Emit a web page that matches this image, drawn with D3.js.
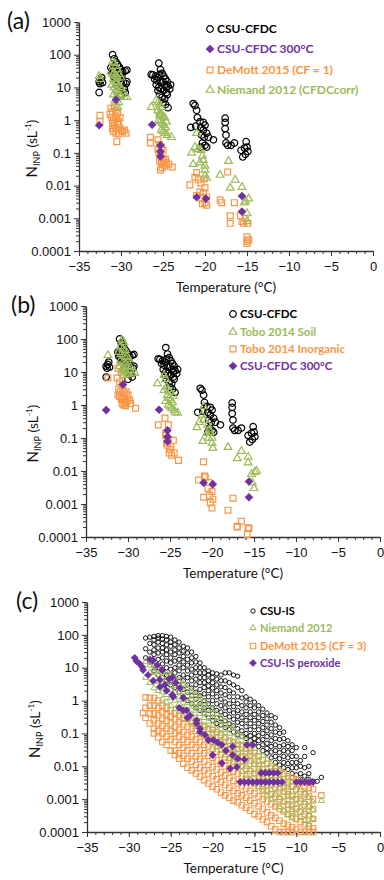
<!DOCTYPE html>
<html>
<head>
<meta charset="utf-8">
<script src="https://cdn.jsdelivr.net/npm/d3@7"></script>
<style>
  body { margin: 0; background: #fff; }
  svg { display: block; font-family: Lato, "Open Sans", sans-serif; }
</style>
</head>
<body>
<div id="chart"></div>
<script>
// ---- data (temperature in degC, N_INP in per standard litre) ----

// CSU-CFDC, same measurements in (a) and (b)
var cfdc = [
  [-32.6,15],[-32.5,13],[-32.4,17],[-32.3,20],[-32.6,7],[-32.2,14],
  [-31.0,100],[-30.8,75],[-30.6,60],[-31.2,40],[-31.0,35],[-30.8,45],[-30.6,38],[-30.4,50],[-30.2,42],
  [-30.0,35],[-29.8,30],[-29.5,32],[-29.3,34],[-31.1,30],[-30.9,28],[-30.7,25],[-30.5,30],[-30.3,28],
  [-30.1,25],[-29.9,22],[-30.8,20],[-30.6,18],[-30.4,22],[-30.2,18],[-30.0,15],[-29.7,14],[-29.3,15],
  [-30.5,12],[-30.2,10],[-29.6,9],[-29.4,13],[-30.0,6],[-29.5,7],
  [-25.5,55],[-25.3,35],[-26.4,25],[-26.2,24],[-25.9,22],[-25.6,20],[-25.4,25],[-25.1,27],[-24.9,22],
  [-24.7,18],[-24.5,15],[-26.0,18],[-25.7,16],[-25.3,14],[-25.0,15],[-24.8,12],[-24.6,10],[-24.4,11],
  [-25.8,12],[-25.5,10],[-25.2,9],[-24.9,8],[-24.6,7],[-25.4,6],[-25.1,5],[-24.8,4.5],[-24.5,6],
  [-25.0,3.5],[-24.7,3],[-24.4,2.4],[-25.6,8],[-24.2,9],[-24.1,12],
  [-21.4,3.2],[-21.2,2.8],[-21.0,2.0],[-20.9,1.2],[-20.6,0.9],[-20.2,0.85],[-21.7,0.6],[-21.1,0.65],
  [-20.5,0.6],[-20.2,0.5],[-20.0,0.7],[-19.8,0.4],[-20.4,0.35],[-19.6,0.3],[-19.0,0.25],[-20.1,0.3],
  [-20.3,0.2],[-20.0,0.17],[-19.8,0.15],[-20.5,0.15],
  [-17.6,1.15],[-17.6,0.85],[-17.6,0.55],[-17.5,0.35],[-17.5,0.2],[-17.3,0.17],[-16.9,0.17],[-16.5,0.2],
  [-15.1,0.22],[-15.0,0.15],[-15.7,0.12],[-15.2,0.09],[-15.5,0.075],[-14.9,0.11],[-15.3,0.14]
];

// CSU-CFDC 300 degC
var cfdc300 = [
  [-32.6,0.7],[-30.6,4.2],[-26.3,0.72],[-25.3,0.17],[-25.3,0.11],[-25.3,0.078],
  [-21.0,0.0044],[-19.9,0.004],[-15.6,0.0048],[-15.6,0.0016]
];

// DeMott 2015 (CF = 1)
var demott1 = [
  [-32.5,1.4],[-32.5,0.9],
  [-31.2,2.3],[-31.0,1.8],[-30.8,2.5],[-30.6,2.0],[-30.4,1.6],[-31.3,1.5],[-31.1,1.2],[-30.9,1.0],
  [-30.7,1.3],[-30.5,1.1],[-30.3,0.9],[-30.1,1.2],[-31.0,0.8],[-30.8,0.7],[-30.6,0.6],[-30.4,0.75],
  [-30.2,0.6],[-30.0,0.5],[-29.8,0.45],[-29.6,0.5],[-29.4,0.4],[-30.9,0.45],[-30.6,0.4],[-30.5,0.22],
  [-31.0,0.55],[-30.3,0.38],
  [-26.5,0.3],[-26.5,0.2],[-25.6,0.25],[-25.4,0.18],[-25.2,0.15],[-25.0,0.12],[-25.5,0.1],[-25.3,0.08],
  [-25.1,0.07],[-24.9,0.06],[-25.4,0.055],[-25.2,0.05],[-25.0,0.045],[-24.8,0.04],[-25.1,0.035],
  [-24.6,0.05],[-24.3,0.045],[-23.9,0.037],[-25.3,0.03],[-24.7,0.065],[-25.6,0.13],
  [-21.8,0.0105],[-21.0,0.025],[-21.0,0.005],[-20.8,0.015],[-20.5,0.012],[-20.0,0.0085],[-20.0,0.003],
  [-19.8,0.0025],[-20.4,0.004],[-20.6,0.0065],[-20.2,0.006],[-19.8,0.0045],[-20.3,0.0028],[-21.2,0.018],
  [-20.1,0.016],
  [-18.2,0.0036],[-18.0,0.003],[-17.3,0.026],[-16.5,0.003],[-17.0,0.0012],[-17.0,0.0007],
  [-15.8,0.0012],[-15.6,0.0008],[-15.4,0.0007],[-14.9,0.0007],[-15.2,0.001],[-15.0,0.00027],
  [-15.0,0.0002],[-15.0,0.00017],[-14.8,0.00022]
];

// Niemand 2012 (CFDCcorr)
var niemandCorr = [
  [-32.6,22],[-32.5,18],
  [-31.0,60],[-30.8,55],[-30.6,45],[-30.4,35],[-31.2,30],[-31.0,25],[-30.8,28],[-30.6,22],[-30.4,20],
  [-30.2,25],[-30.0,20],[-30.9,18],[-30.7,15],[-30.5,14],[-30.3,12],[-30.1,10],[-29.9,9],[-31.1,12],
  [-30.8,10],[-30.6,8],[-30.4,7],[-30.2,6],[-30.0,5.5],[-29.6,5],[-29.3,5],[-30.5,5],[-30.7,4],
  [-30.9,6],[-30.3,3.5],[-30.4,2.5],
  [-26.4,2.5],[-25.8,4],[-25.6,3.5],[-25.4,3],[-25.2,2.5],[-25.6,2],[-25.4,1.7],[-25.2,1.5],[-25.0,1.3],
  [-24.8,1.2],[-25.5,1.0],[-25.3,0.9],[-25.1,0.8],[-24.9,0.7],[-24.7,0.6],[-25.2,0.5],[-25.0,0.45],
  [-24.8,0.4],[-24.5,0.35],[-24.0,0.3],[-25.4,1.4],[-24.6,0.9],
  [-21.0,0.4],[-21.6,0.1],[-21.2,0.15],[-20.8,0.13],[-20.5,0.12],[-20.3,0.08],[-20.2,0.06],[-20.0,0.04],
  [-20.0,0.03],[-20.0,0.02],[-19.8,0.017],[-21.4,0.045],[-20.6,0.05],
  [-18.2,0.021],[-17.2,0.056],[-17.0,0.0085],[-16.4,0.015],
  [-15.6,0.009],[-15.2,0.0034],[-14.8,0.004],[-15.0,0.0014],[-15.0,0.0008],[-15.3,0.003]
];

// Tobo 2014 Soil
var toboSoil = [
  [-32.4,32],
  [-30.7,93],[-30.5,80],[-30.9,60],[-30.6,50],[-30.3,45],[-31.1,40],[-30.8,35],[-30.4,30],[-30.1,28],
  [-29.9,25],[-30.9,22],[-30.6,20],[-30.3,18],[-30.0,15],[-29.7,14],[-31.0,15],[-30.7,12],[-30.4,11],
  [-30.2,10],[-29.5,9],[-29.2,9.4],[-30.5,8],[-30.0,8.5],
  [-26.5,4.5],[-25.7,8],[-25.5,6],[-25.7,2.8],[-25.4,3.5],[-25.2,3],[-25.0,2.5],[-25.3,2],[-25.1,1.6],
  [-24.9,1.4],[-24.7,1.2],[-25.2,1.0],[-25.0,0.9],[-24.8,0.8],[-24.5,0.7],[-24.1,0.58],[-24.4,0.6],
  [-25.5,1.3],[-24.6,1.9],
  [-21.8,0.21],[-21.5,0.3],[-21.0,0.9],[-21.0,0.35],[-20.5,0.25],[-20.3,0.18],[-20.2,0.15],[-20.0,0.1],
  [-19.9,0.05],[-20.4,0.1],[-21.2,0.5],[-20.6,0.14],[-20.0,0.07],[-21.1,0.08],
  [-18.1,0.053],[-17.0,0.024],[-16.5,0.04],[-15.7,0.0265],[-15.7,0.018],[-14.9,0.0093],[-14.7,0.01],
  [-15.2,0.0044],[-15.0,0.003],[-15.3,0.008]
];

// Tobo 2014 Inorganic
var toboInorg = [
  [-32.4,6.6],
  [-31.2,13],[-31.3,6.6],[-30.8,10],[-30.6,8],[-31.0,5],[-30.7,4],[-31.1,3],[-30.9,2.5],[-30.6,2.8],
  [-30.4,2.2],[-30.2,2.5],[-30.0,2],[-31.0,1.8],[-30.8,1.5],[-30.6,1.6],[-30.4,1.3],[-30.2,1.2],
  [-30.0,1.5],[-29.8,1.4],[-30.7,1.1],[-30.5,1.0],[-30.3,0.95],[-29.7,1.1],[-29.1,0.8],[-31.2,2],
  [-26.4,0.25],[-25.6,0.4],[-25.2,0.25],[-25.5,0.14],[-25.5,0.12],[-25.4,0.07],[-25.0,0.045],
  [-24.6,0.085],[-24.0,0.021],[-25.3,0.06],[-25.1,0.035],[-24.8,0.03],[-24.5,0.035],[-25.2,0.09],
  [-24.9,0.055],
  [-21.0,0.019],[-21.6,0.0053],[-20.9,0.007],[-21.0,0.0016],[-20.0,0.0024],[-20.2,0.0011],[-20.0,0.00076],
  [-20.5,0.003],[-20.3,0.0018],[-19.9,0.0014],[-20.8,0.0065],[-20.4,0.0045],
  [-18.1,0.00065],[-17.5,0.0015],[-17.0,0.0002],[-16.5,0.0003],[-15.7,0.00019],[-15.8,0.00012],
  [-17.0,0.00021],[-15.6,0.00018]
];

// (c) CSU-IS, one column of samples per temperature step
var isTemps = [-28,-27.5,-27,-26.5,-26,-25.5,-25,-24.5,-24,-23.5,-23,-22.5,-22,-21.5,-21,-20.5,-20,-19.5,
  -19,-18.5,-18,-17.5,-17,-16.5,-16,-15.5,-15,-14.5,-14,-13.5,-13,-12.5,-12,-11.5,-11,-10.5,-10,-9.5,
  -9,-8.5,-8,-7.5,-7];
var isValues = [
  [80,38,20],
  [85,55,30,15],
  [90,70,50,35,25,12,8],
  [95,80,60,40,28,18,10,6],
  [95,75,55,40,30,20,13,8,5],
  [90,70,50,35,25,16,10,6,4],
  [85,60,45,30,20,14,9,6,3],
  [70,50,35,25,16,10,7,4,2.5],
  [60,40,28,18,12,8,5,3,1.8],
  [45,32,22,15,10,6,4,2.2,1.3],
  [40,28,18,12,8,5,3,1.8,1],
  [30,20,14,9,6,4,2.4,1.4,0.8],
  [22,15,10,7,4.5,3,1.8,1.1,0.6],
  [14,10,7,5,3.5,2.2,1.4,0.8,0.5],
  [10,7,5,3.5,2.5,1.6,1,0.6,0.4],
  [8,6,4,2.8,2,1.3,0.8,0.5,0.3],
  [7,5,3.5,2.4,1.6,1.0,0.6,0.4,0.25],
  [6.5,4.5,3,2,1.3,0.8,0.5,0.3,0.2],
  [6,4,2.6,1.7,1.1,0.7,0.45,0.28,0.18],
  [7,4,2.5,1.5,0.9,0.6,0.38,0.24,0.15],
  [7,3.5,2,1.3,0.8,0.5,0.32,0.2,0.13],
  [6,3,1.7,1.0,0.65,0.42,0.27,0.17,0.11],
  [5.5,2.5,1.3,0.8,0.5,0.33,0.22,0.14,0.09],
  [2,1.2,0.7,0.45,0.3,0.2,0.12,0.08],
  [1.3,0.9,0.6,0.38,0.25,0.16,0.1,0.07],
  [1.1,0.7,0.45,0.3,0.2,0.13,0.085,0.06],
  [0.9,0.6,0.38,0.25,0.16,0.1,0.07,0.05],
  [0.7,0.45,0.3,0.2,0.13,0.085,0.06,0.04],
  [0.55,0.35,0.23,0.15,0.1,0.065,0.045,0.03],
  [0.42,0.28,0.18,0.12,0.08,0.05,0.035,0.025],
  [0.35,0.22,0.14,0.09,0.06,0.04,0.027,0.018],
  [0.3,0.18,0.11,0.07,0.045,0.03,0.02,0.013],
  [0.15,0.1,0.065,0.04,0.026,0.017,0.011],
  [0.11,0.07,0.045,0.03,0.02,0.013,0.009],
  [0.06,0.04,0.027,0.018,0.012,0.008],
  [0.045,0.03,0.02,0.013,0.009,0.006],
  [0.037,0.02,0.013,0.009,0.0055],
  [0.015,0.01,0.006,0.004],
  [0.037,0.02,0.009,0.005],
  [0.01,0.006,0.004,0.003],
  [0.026,0.0035,0.0033],
  [0.0035],
  [0.0046]
];

// (c) Niemand 2012
var niemandTemps = [-28,-27.5,-27,-26.5,-26,-25.5,-25,-24.5,-24,-23.5,-23,-22.5,-22,-21.5,-21,-20.5,
  -20,-19.5,-19,-18.5,-18,-17.5,-17,-16.5,-16,-15.5,-15,-14.5,-14,-13.5,-13,-12.5,-12,-11.5,-11,-10.5,
  -10,-9.5,-9,-8.5,-8,-7];
var niemandValues = [
  [15,5],
  [12,7,3.5],
  [11,7,4,2.4],
  [9,6,3.8,2],
  [8,5,3.2,1.8,1.1],
  [7,4.2,2.6,1.5,0.9],
  [6,3.5,2.1,1.2,0.7],
  [5,2.8,1.7,1,0.55],
  [4,2.3,1.3,0.8,0.45],
  [3.2,1.8,1.05,0.62,0.35],
  [2.5,1.4,0.85,0.5,0.27],
  [2,1.1,0.66,0.38,0.21],
  [1.5,0.85,0.5,0.3,0.16],
  [1.2,0.65,0.4,0.23,0.12],
  [0.9,0.5,0.3,0.17,0.09],
  [0.7,0.4,0.23,0.13,0.07],
  [0.52,0.3,0.17,0.1,0.052],
  [0.4,0.23,0.13,0.075,0.04],
  [0.3,0.17,0.1,0.055,0.03],
  [0.23,0.13,0.075,0.042,0.022],
  [0.18,0.1,0.057,0.032,0.017],
  [0.14,0.075,0.043,0.024,0.013],
  [0.1,0.057,0.033,0.018,0.0095],
  [0.08,0.043,0.025,0.013,0.007],
  [0.06,0.033,0.019,0.01,0.0053],
  [0.045,0.025,0.014,0.0077,0.004],
  [0.035,0.019,0.011,0.0058,0.003],
  [0.027,0.015,0.0082,0.0044,0.0023],
  [0.021,0.011,0.0062,0.0033,0.0017],
  [0.016,0.0085,0.0047,0.0025,0.0013],
  [0.012,0.0065,0.0036,0.0019,0.001],
  [0.0095,0.005,0.0027,0.0014,0.00075],
  [0.0073,0.0038,0.0021,0.0011,0.00058],
  [0.0056,0.0029,0.0016,0.00082,0.00044],
  [0.0043,0.0022,0.0012,0.00063,0.00034],
  [0.0033,0.0017,0.00092,0.00048,0.00026],
  [0.0025,0.0013,0.0007,0.00037],
  [0.0019,0.001,0.00054,0.00029],
  [0.0015,0.00078,0.00042,0.00022],
  [0.0011,0.0006,0.00032,0.00017],
  [0.00085,0.00046,0.00025],
  [0.0009]
];

// (c) DeMott 2015 (CF = 3)
var demott3Temps = [-28.3,-28,-27.5,-27,-26.5,-26,-25.5,-25,-24.5,-24,-23.5,-23,-22.5,-22,-21.5,-21,
  -20.5,-20,-19.5,-19,-18.5,-18,-17.5,-17,-16.5,-16,-15.5,-15,-14.5,-14,-13.5,-13,-12.5,-12,-11.5,
  -11,-10.5,-10,-9.5,-9,-8.5,-8,-7];
var demott3Values = [
  [0.42],
  [1.25,0.6,0.3],
  [1.2,0.7,0.4,0.2],
  [1.2,0.7,0.4,0.25,0.14,0.1],
  [1.0,0.6,0.35,0.2,0.12,0.075],
  [0.7,0.45,0.28,0.17,0.1,0.055],
  [0.6,0.38,0.24,0.14,0.08,0.045],
  [0.5,0.32,0.2,0.12,0.065,0.03],
  [0.42,0.27,0.16,0.1,0.055,0.03,0.022],
  [0.35,0.22,0.13,0.08,0.045,0.025,0.017],
  [0.3,0.19,0.11,0.065,0.037,0.021,0.012],
  [0.28,0.16,0.09,0.055,0.03,0.017,0.009],
  [0.24,0.14,0.08,0.045,0.025,0.014,0.0075],
  [0.2,0.12,0.065,0.037,0.02,0.011,0.006],
  [0.18,0.1,0.055,0.03,0.017,0.009,0.0048],
  [0.16,0.085,0.045,0.025,0.014,0.0075,0.0038],
  [0.14,0.075,0.04,0.021,0.011,0.006,0.003],
  [0.13,0.065,0.034,0.018,0.0095,0.005,0.0024],
  [0.11,0.055,0.028,0.015,0.008,0.004,0.002],
  [0.09,0.045,0.023,0.012,0.0065,0.0033,0.0016],
  [0.075,0.038,0.019,0.01,0.0053,0.0027,0.0013],
  [0.06,0.032,0.016,0.0085,0.0044,0.0022,0.0011],
  [0.052,0.027,0.014,0.007,0.0036,0.0018,0.0009],
  [0.045,0.023,0.012,0.006,0.003,0.0015,0.0008],
  [0.04,0.02,0.01,0.005,0.0025,0.0013,0.00065],
  [0.035,0.017,0.0085,0.0042,0.0021,0.0011,0.00055],
  [0.03,0.015,0.0072,0.0036,0.0018,0.0009,0.00045],
  [0.025,0.012,0.006,0.003,0.0015,0.00075,0.00035],
  [0.02,0.01,0.005,0.0025,0.0012,0.0006,0.0003],
  [0.015,0.008,0.004,0.002,0.001,0.0005,0.00024],
  [0.012,0.0065,0.0033,0.0017,0.00085,0.0004,0.0002],
  [0.01,0.0055,0.0028,0.0014,0.0007,0.00032,0.00015],
  [0.0085,0.0045,0.0023,0.0012,0.0006,0.00027,0.00012],
  [0.007,0.0038,0.002,0.001,0.0005,0.00022,0.0001],
  [0.006,0.0032,0.0017,0.00085,0.00042,0.00018,0.0001],
  [0.005,0.0027,0.0014,0.0007,0.00035,0.00016,0.0001],
  [0.0045,0.0024,0.0012,0.0006,0.0003,0.00014,0.0001],
  [0.004,0.002,0.001,0.0005,0.00025,0.00012],
  [0.0032,0.0017,0.00085,0.00042,0.0002,0.0001],
  [0.0025,0.0014,0.0007,0.00035,0.00017,0.0001],
  [0.0022,0.0012,0.0006,0.0003,0.00015,0.0001],
  [0.002,0.001,0.0005,0.00025,0.00013,0.0001],
  [0.0013]
];

// (c) CSU-IS peroxide
var peroxide = [
  [-29.3,20],[-29.1,16],[-28.7,13],[-28.4,10.5],[-27.5,18],[-27.1,17],[-26.6,12],[-26.0,8.5],
  [-24.8,5.2],[-23.9,2.4],[-23.5,1.2],[-23.1,0.5],[-21.9,0.25],
  [-28.3,8.5],[-27.7,6],[-27.1,4],[-26.3,2.6],[-25.5,2],[-24.7,1.3],[-23.5,0.5],[-22.7,0.35],[-21.9,0.2],
  [-26.3,4.3],[-25.7,3],[-24.8,1.5],[-24.0,0.6],[-23.0,0.3],[-25.2,4.5],[-24.4,3.5],
  [-21.5,0.11],[-20.9,0.09],[-19.9,0.063],[-18.9,0.045],[-17.6,0.04],[-15.9,0.045],[-15.2,0.045],
  [-21.5,0.14],[-20.5,0.063],[-19.4,0.053],[-18.4,0.03],[-17.6,0.022],[-17.0,0.017],[-16.2,0.016],
  [-20.0,0.022],[-18.9,0.0125],[-17.9,0.0085],[-17.1,0.0095],
  [-16.7,0.0033],[-16.2,0.0033],[-15.7,0.0033],[-15.2,0.0033],[-14.7,0.0033],[-14.2,0.0033],
  [-13.7,0.0033],[-13.2,0.0033],[-12.7,0.0033],[-12.2,0.0033],[-11.7,0.0033],
  [-10.0,0.0033],[-9.5,0.0033],[-9.0,0.0033],[-8.5,0.0033],[-8.0,0.0033],
  [-14.2,0.0063],[-13.7,0.0063],[-13.2,0.0063],[-12.7,0.0063],[-12.2,0.0063]
];

// axis ticks
var yTicks = [0.0001, 0.001, 0.01, 0.1, 1, 10, 100, 1000];
var yTickLabels = ["0.0001", "0.001", "0.01", "0.1", "1", "10", "100", "1000"];
var xTicks = [-35, -30, -25, -20, -15, -10, -5, 0];

function columns(temps, values) {
  var out = [];
  temps.forEach(function (t, i) {
    values[i].forEach(function (v) { out.push([t, v]); });
  });
  return out;
}

var black = "#000000", purple = "#7030a0", orange = "#f79646", green = "#9bbb59";

var svg = d3.select("#chart")
  .append("svg")
  .attr("width", 384)
  .attr("height", 880);

// minor log ticks 2..9 of each decade
var yMinor = [];
for (var e = -4; e < 3; e++) {
  for (var m = 2; m <= 9; m++) yMinor.push(m * Math.pow(10, e));
}
var xMinor = d3.range(-35, 1, 1);

// diamonds are squares turned by 45 degrees
function markerTransform(s, px, py) {
  return "translate(" + px + "," + py + ")" + (s.diamond ? " rotate(45)" : "");
}

function drawPanel(p) {
  var x = d3.scaleLinear().domain([-35, 0]).range([p.x0, p.x1]);
  var y = d3.scaleLog().domain([0.0001, 1000]).range([p.y1, p.y0]);
  var g = svg.append("g");

  // minor ticks
  g.append("g")
    .attr("transform", "translate(" + p.x0 + ",0)")
    .call(d3.axisLeft(y).tickValues(yMinor).tickSize(3).tickFormat(""))
    .call(function (a) { a.select(".domain").remove(); a.selectAll("line").attr("stroke", "#333"); });
  g.append("g")
    .attr("transform", "translate(0," + p.y1 + ")")
    .call(d3.axisBottom(x).tickValues(xMinor).tickSize(3).tickFormat(""))
    .call(function (a) { a.select(".domain").remove(); a.selectAll("line").attr("stroke", "#333"); });

  // major axes
  var yAx = g.append("g")
    .attr("transform", "translate(" + p.x0 + ",0)")
    .call(d3.axisLeft(y).tickValues(yTicks).tickSize(5).tickSizeOuter(0).tickPadding(3)
      .tickFormat(function (d, i) { return yTickLabels[i]; }));
  var xAx = g.append("g")
    .attr("transform", "translate(0," + p.y1 + ")")
    .call(d3.axisBottom(x).tickValues(xTicks).tickSize(5).tickSizeOuter(0).tickPadding(6));
  [yAx, xAx].forEach(function (a) {
    a.select(".domain").attr("stroke", "#333").attr("stroke-width", 1.3);
    a.selectAll("line").attr("stroke", "#333");
    a.selectAll("text").attr("fill", "#111").style("font-size", "13px");
  });

  // axis titles
  g.append("text")
    .attr("x", (p.x0 + p.x1) / 2)
    .attr("y", p.y1 + 41)
    .attr("text-anchor", "middle")
    .style("font-size", "13.5px")
    .attr("fill", "#111")
    .text("Temperature (°C)");

  var yl = g.append("text")
    .attr("transform", "translate(" + p.ylabX + "," + ((p.y0 + p.y1) / 2 + 12) + ") rotate(-90)")
    .attr("text-anchor", "middle")
    .attr("fill", "#111")
    .style("font-size", "15px");
  yl.append("tspan").text("N");
  yl.append("tspan").attr("dy", 3).style("font-size", "9px").text("INP");
  yl.append("tspan").attr("dy", -3).style("font-size", "14px").text(" (sL");
  yl.append("tspan").attr("dy", -6).style("font-size", "8px").text("-1");
  yl.append("tspan").attr("dy", 6).style("font-size", "14px").text(")");

  // panel letter
  g.append("text")
    .attr("x", p.labX)
    .attr("y", p.labY)
    .style("font-size", "23px")
    .attr("fill", "#111")
    .text(p.label);

  // markers
  p.series.forEach(function (s) {
    g.append("g")
      .selectAll("path")
      .data(s.data)
      .enter()
      .append("path")
      .attr("transform", function (d) { return markerTransform(s, x(d[0]), y(d[1])); })
      .attr("d", d3.symbol().type(s.type).size(s.size))
      .attr("fill", s.filled ? s.color : "none")
      .attr("stroke", s.color)
      .attr("stroke-width", s.sw);
  });

  // legend
  p.legend.forEach(function (s, i) {
    var ly = p.legY[i];
    g.append("path")
      .attr("transform", markerTransform(s, p.legX, ly))
      .attr("d", d3.symbol().type(s.type).size(s.size))
      .attr("fill", s.filled ? s.color : "none")
      .attr("stroke", s.color)
      .attr("stroke-width", s.sw);
    g.append("text")
      .attr("x", p.legX + 7)
      .attr("y", ly + p.legFont * 0.36)
      .style("font-size", p.legFont + "px")
      .style("font-weight", "bold")
      .attr("fill", s.color)
      .text(s.name);
  });
}

var sCfdc = { name: "CSU-CFDC", data: cfdc, type: d3.symbolCircle, size: 34, color: black, sw: 1.2 };
var s300 = { name: "CSU-CFDC 300°C", data: cfdc300, type: d3.symbolSquare, size: 26, color: purple, sw: 1, filled: true, diamond: true };
var sDem1 = { name: "DeMott 2015 (CF = 1)", data: demott1, type: d3.symbolSquare, size: 34, color: orange, sw: 1.2 };
var sNiem = { name: "Niemand 2012 (CFDCcorr)", data: niemandCorr, type: d3.symbolTriangle, size: 26, color: green, sw: 1.2 };
var sSoil = { name: "Tobo 2014 Soil", data: toboSoil, type: d3.symbolTriangle, size: 26, color: green, sw: 1.2 };
var sInorg = { name: "Tobo 2014 Inorganic", data: toboInorg, type: d3.symbolSquare, size: 34, color: orange, sw: 1.2 };

var sIs = { name: "CSU-IS", data: columns(isTemps, isValues), type: d3.symbolCircle, size: 15, color: black, sw: 0.9 };
var sNiemC = { name: "Niemand 2012", data: columns(niemandTemps, niemandValues), type: d3.symbolTriangle, size: 16, color: green, sw: 1 };
var sDem3 = { name: "DeMott 2015 (CF = 3)", data: columns(demott3Temps, demott3Values), type: d3.symbolSquare, size: 30, color: orange, sw: 1.1 };
var sPer = { name: "CSU-IS peroxide", data: peroxide, type: d3.symbolSquare, size: 20, color: purple, sw: 1, filled: true, diamond: true };

drawPanel({
  x0: 79, x1: 373, y0: 22, y1: 251, ylabX: 37,
  label: "(a)", labX: 7, labY: 29,
  series: [sCfdc, sDem1, sNiem, s300],
  legend: [sCfdc, s300, sDem1, sNiem],
  legX: 210, legY: [29, 49, 70, 90], legFont: 12
});

drawPanel({
  x0: 86, x1: 380, y0: 306, y1: 537, ylabX: 38,
  label: "(b)", labX: 11, labY: 313,
  series: [sCfdc, sInorg, sSoil, s300],
  legend: [sCfdc, sSoil, sInorg, s300],
  legX: 233, legY: [314, 332, 349, 366], legFont: 11.5
});

drawPanel({
  x0: 87, x1: 380, y0: 602, y1: 832, ylabX: 40,
  label: "(c)", labX: 16, labY: 609,
  series: [sIs, sDem3, sNiemC, sPer],
  legend: [sIs, sNiemC, sDem3, sPer],
  legX: 253, legY: [611, 628, 646, 663], legFont: 11
});
</script>
</body>
</html>
